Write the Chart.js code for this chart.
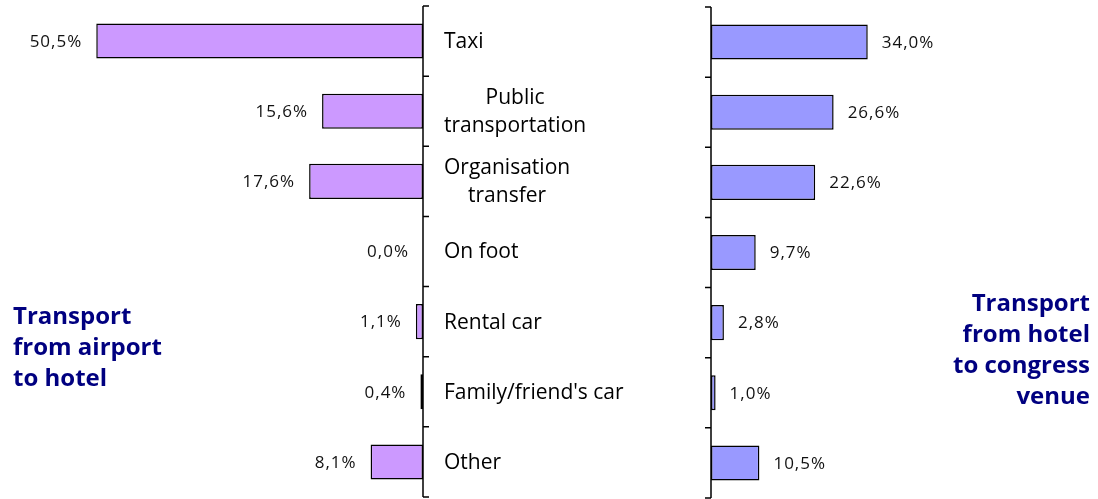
<!DOCTYPE html>
<html lang="en">
<head>
    <meta charset="UTF-8">
    <title>Transport survey</title>
    <script src="https://cdn.jsdelivr.net/npm/chart.js"></script>
    <style>
        * {
            margin: 0;
            padding: 0;
            box-sizing: border-box;
        }

        body {
            width: 1098px;
            height: 499px;
            background: #fff;
            position: relative;
            overflow: hidden;
        }

        .chart-box {
            position: absolute;
            top: 0;
            height: 499px;
        }

        #leftBox { left: 0; width: 700px; }
        #rightBox { left: 700px; width: 398px; }

        /* Side titles */
        .side-title {
            position: absolute;
            font-family: "Open Sans", sans-serif;
            font-weight: bold;
            font-size: 24px;
            line-height: 31px;
            color: #000080;
        }

        .side-title.left { left: 13px; top: 299px; text-align: left; }
        .side-title.right { right: 8px; top: 286px; text-align: right; }
    </style>
</head>
<body>

    <div class="chart-box" id="leftBox"><canvas id="leftCanvas" width="700" height="499"></canvas></div>
    <div class="chart-box" id="rightBox"><canvas id="rightCanvas" width="398" height="499"></canvas></div>

    <div class="side-title left">Transport<br>from airport<br>to hotel</div>
    <div class="side-title right">Transport<br>from hotel<br>to congress<br>venue</div>

    <script>
        // Data
        const categories = ['Taxi', ['Public', 'transportation'], ['Organisation', 'transfer'], 'On foot', 'Rental car', "Family/friend's car", 'Other'];
        const airportToHotel = [50.5, 15.6, 17.6, 0.0, 1.1, 0.4, 8.1];
        const hotelToVenue = [34.0, 26.6, 22.6, 9.7, 2.8, 1.0, 10.5];
        const axisMax = 60;

        function fmt(v) {
            return v.toFixed(1).replace('.', ',') + '%';
        }

        // Axis line + tick marks at band boundaries
        function drawAxis(chart, side) {
            const ctx = chart.ctx;
            const area = chart.chartArea;
            const y = chart.scales.y;
            const n = categories.length;
            const band = (area.bottom - area.top) / n;
            const ax = side === 'left' ? area.right : area.left;
            const dir = side === 'left' ? 1 : -1;
            ctx.save();
            ctx.strokeStyle = '#000';
            ctx.lineWidth = 1.5;
            ctx.beginPath();
            ctx.moveTo(ax, y.getPixelForValue(0) - band / 2);
            ctx.lineTo(ax, y.getPixelForValue(n - 1) + band / 2);
            for (let i = 0; i <= n; i++) {
                const ty = y.getPixelForValue(i) - band / 2;
                ctx.moveTo(ax, ty);
                ctx.lineTo(ax + dir * 6, ty);
            }
            ctx.stroke();
            ctx.restore();
        }

        function drawValues(chart, side, values) {
            const ctx = chart.ctx;
            const meta = chart.getDatasetMeta(0);
            ctx.save();
            ctx.font = '17px "Open Sans", sans-serif';
            ctx.letterSpacing = '1px';
            ctx.fillStyle = '#111';
            ctx.textBaseline = 'middle';
            ctx.textAlign = side === 'left' ? 'right' : 'left';
            meta.data.forEach(function (bar, i) {
                const x = side === 'left' ? bar.x - 14 : bar.x + 14;
                ctx.fillText(fmt(values[i]), x, bar.y + 1);
            });
            ctx.restore();
        }

        // Category labels sit between the two charts, drawn on the left canvas
        function drawCategories(chart) {
            const ctx = chart.ctx;
            const area = chart.chartArea;
            const y = chart.scales.y;
            const x0 = area.right + 21;
            ctx.save();
            ctx.font = '21px "Open Sans", sans-serif';
            ctx.fillStyle = '#000';
            ctx.textBaseline = 'middle';
            categories.forEach(function (label, i) {
                const cy = y.getPixelForValue(i) + 1;
                if (Array.isArray(label)) {
                    const w = Math.max.apply(null, label.map(l => ctx.measureText(l).width));
                    ctx.textAlign = 'center';
                    label.forEach(function (line, j) {
                        ctx.fillText(line, x0 + w / 2, cy + (j - (label.length - 1) / 2) * 28);
                    });
                } else {
                    ctx.textAlign = 'left';
                    ctx.fillText(label, x0, cy);
                }
            });
            ctx.restore();
        }

        const leftDecor = {
            id: 'leftDecor',
            afterDatasetsDraw: function (chart) {
                drawAxis(chart, 'left');
                drawValues(chart, 'left', airportToHotel);
                drawCategories(chart);
            }
        };

        const rightDecor = {
            id: 'rightDecor',
            afterDatasetsDraw: function (chart) {
                drawAxis(chart, 'right');
                drawValues(chart, 'right', hotelToVenue);
            }
        };

        function makeOptions(reverse, padding) {
            return {
                indexAxis: 'y',
                responsive: false,
                animation: false,
                layout: { padding: padding },
                plugins: {
                    legend: { display: false },
                    tooltip: { enabled: false }
                },
                scales: {
                    x: { min: 0, max: axisMax, reverse: reverse, display: false },
                    y: { display: false }
                }
            };
        }

        new Chart(document.getElementById('leftCanvas').getContext('2d'), {
            type: 'bar',
            data: {
                labels: categories,
                datasets: [{
                    data: airportToHotel,
                    backgroundColor: '#CC99FF',
                    borderColor: '#000',
                    borderWidth: 1.5,
                    borderSkipped: false,
                    categoryPercentage: 1,
                    barPercentage: 0.5
                }]
            },
            options: makeOptions(true, { left: 34.8, right: 277, top: 6, bottom: 2 }),
            plugins: [leftDecor]
        });

        new Chart(document.getElementById('rightCanvas').getContext('2d'), {
            type: 'bar',
            data: {
                labels: categories,
                datasets: [{
                    data: hotelToVenue,
                    backgroundColor: '#9999FF',
                    borderColor: '#000',
                    borderWidth: 1.5,
                    borderSkipped: false,
                    categoryPercentage: 1,
                    barPercentage: 0.5
                }]
            },
            options: makeOptions(false, { left: 11, right: 110.4, top: 7, bottom: 1 }),
            plugins: [rightDecor]
        });
    </script>
</body>
</html>
